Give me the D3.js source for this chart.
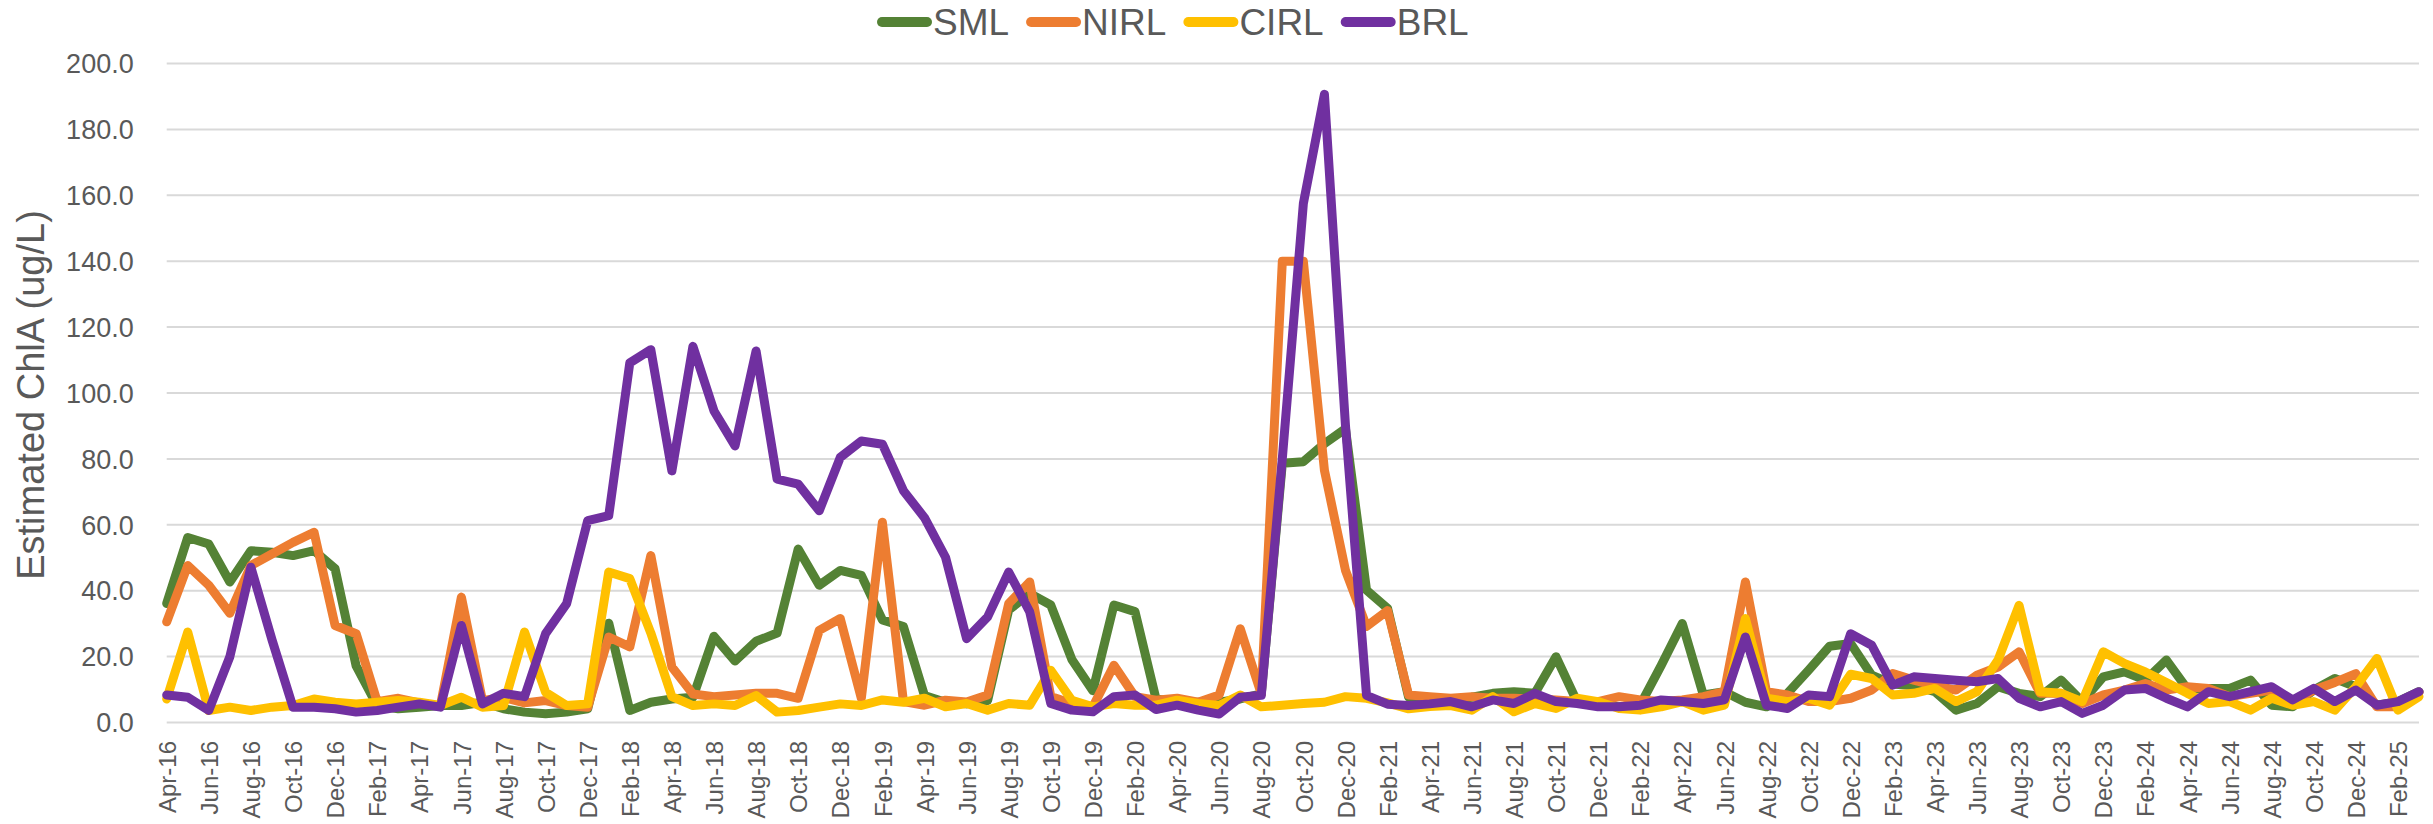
<!DOCTYPE html>
<html>
<head>
<meta charset="utf-8">
<script src="https://d3js.org/d3.v7.min.js"></script>
<style>
    body { margin: 0; background: #fff; }
    svg text { font-family: "Liberation Sans", Arial, sans-serif; fill: #595959; }
    .grid line { stroke: #d9d9d9; stroke-width: 2; }
    .grid path { display: none; }
    .series { fill: none; stroke-width: 9; stroke-linejoin: round; stroke-linecap: round; }
</style>
</head>
<body>
<svg id="chart" width="2433" height="824"></svg>
<script>

// months, Apr-16 .. Mar-25
var months = [
    "Apr-16","May-16","Jun-16","Jul-16","Aug-16","Sep-16","Oct-16","Nov-16","Dec-16",
    "Jan-17","Feb-17","Mar-17","Apr-17","May-17","Jun-17","Jul-17","Aug-17","Sep-17","Oct-17","Nov-17","Dec-17",
    "Jan-18","Feb-18","Mar-18","Apr-18","May-18","Jun-18","Jul-18","Aug-18","Sep-18","Oct-18","Nov-18","Dec-18",
    "Jan-19","Feb-19","Mar-19","Apr-19","May-19","Jun-19","Jul-19","Aug-19","Sep-19","Oct-19","Nov-19","Dec-19",
    "Jan-20","Feb-20","Mar-20","Apr-20","May-20","Jun-20","Jul-20","Aug-20","Sep-20","Oct-20","Nov-20","Dec-20",
    "Jan-21","Feb-21","Mar-21","Apr-21","May-21","Jun-21","Jul-21","Aug-21","Sep-21","Oct-21","Nov-21","Dec-21",
    "Jan-22","Feb-22","Mar-22","Apr-22","May-22","Jun-22","Jul-22","Aug-22","Sep-22","Oct-22","Nov-22","Dec-22",
    "Jan-23","Feb-23","Mar-23","Apr-23","May-23","Jun-23","Jul-23","Aug-23","Sep-23","Oct-23","Nov-23","Dec-23",
    "Jan-24","Feb-24","Mar-24","Apr-24","May-24","Jun-24","Jul-24","Aug-24","Sep-24","Oct-24","Nov-24","Dec-24",
    "Jan-25","Feb-25","Mar-25"
];

var sml = [
    36,56,54,42.5,52,51.5,50.5,52,46.5,
    17,5,4,4.5,5,5,6,4,3,2.5,3,4,
    30,3.5,6,7,7.5,26,18.5,24.5,27,52.5,41.5,46,
    44.5,31,29,8,6,5.5,6.5,34,39,35.5,19,9.5,
    35.5,33.5,7,6,6,6,7,8.5,78.5,79,84.5,89,
    40,34.5,7.5,6,6.5,7.5,8.7,9.2,8.7,19.8,6.2,5.1,
    4.6,5.1,17.2,29.9,8.2,9.2,6,4.6,8.7,15.7,23,23.8,
    14.2,11.5,11,9.2,3.6,5.6,10.7,8.7,7.7,12.7,6.2,13.7,
    15.2,12.7,18.8,10,10.2,10.2,12.7,5.1,4.6,9.7,13.2,10.7,
    5.1,6.2,9.2
];

var nirl = [
    30.4,47.5,41.5,33,47.5,51,54.5,57.6,29.3,
    26.8,6.2,7.2,5.8,4.8,37.9,6.5,7.5,5.8,6.5,5,4.5,
    25.8,22.8,50.5,16.7,8.5,7.7,8.2,8.7,8.7,7.2,27.8,31.4,
    7.2,60.6,6.2,5.1,6.6,6.1,8.2,35.9,42.5,7.7,5.6,4.6,
    17.2,7.7,6.6,7.2,6,8.2,28.3,8.5,139.8,139.8,76.4,46,
    29,33.8,8.2,7.7,7.2,7.7,7.2,7.2,7,6.7,6.2,6.2,
    7.7,6.7,6.2,6.7,7.7,9.2,42.5,9.2,8.2,6.2,6.2,7.2,
    9.7,14.7,12.7,11,9.7,14.2,16.7,21.3,8.7,8.7,5.6,8.2,
    9.7,11.7,9.7,10.7,10.2,7.7,8.7,9.7,5.6,9.7,12,14.7,
    4.6,4.6,9
];

var cirl = [
    7,27.3,3.5,4.5,3.5,4.5,5,7,6,
    5.5,6,6.5,6,5,7.5,4.5,5,27.3,9,5,5.5,
    45.5,43.5,27,7.7,5,5.5,5,8,3,3.5,4.5,5.5,
    5,6.7,6,7.2,4.6,5.6,3.6,5.6,5.1,15.7,6.6,4.6,
    5.6,5.1,5.1,6.6,5.6,5,8.2,4.6,5.1,5.6,6,7.7,
    7.2,5.8,4,4.7,5,3.6,7.7,3.1,5.6,4.1,7.2,6.2,
    4.1,3.6,4.6,6.2,3.6,5.1,31.4,7.2,6.2,7.2,5.1,14.5,
    13.2,8.2,8.7,10.2,6.2,9.2,18.8,35.4,9.2,8.7,6.2,21.3,
    17.8,15.2,12,8.7,5.6,6.2,3.6,7.2,5.1,6.2,3.6,10.7,
    19.3,3.6,7.7
];

var brl = [
    8.2,7.5,3.5,19.8,47,25,4.5,4.5,4,
    3,3.5,4.5,5.5,4.5,29.3,5.5,8.7,7.7,26.8,35.9,61.1,
    62.6,109,113,76.2,114,94.4,83.8,112.6,73.7,72.2,64.1,80.3,
    85.3,84.3,70.2,62,50,25.3,31.9,45.5,33.4,5.6,3.6,3.1,
    7.7,8.2,3.8,5.1,3.6,2.4,7.5,8.1,80,157.4,190.5,90,
    8.1,5.4,5,5.5,6.2,4.6,6.7,5.6,8.7,6.2,5.6,4.6,
    4.6,5.1,6.7,6.2,5.6,6.7,25.8,5.1,4.1,8.2,7.7,26.8,
    23.3,11.2,13.7,13.2,12.7,12.2,13.2,7.2,4.6,6.2,2.6,5.1,
    9.7,10.2,7.2,4.6,9.2,7.7,9.2,10.7,6.7,10.2,6.2,9.7,
    5.1,6.2,9.2
];

var seriesNames = ["SML", "NIRL", "CIRL", "BRL"];
var seriesColors = ["#548235", "#ED7D31", "#FFC000", "#7030A0"];
var yTicks = [0, 20, 40, 60, 80, 100, 120, 140, 160, 180, 200];

var svg = d3.select("#chart"),
    margin = {top: 63, right: 14, bottom: 102, left: 166.7},
    width = +svg.attr("width") - margin.left - margin.right,
    height = +svg.attr("height") - margin.top - margin.bottom;

var g = svg.append("g")
    .attr("transform", "translate(" + margin.left + "," + margin.top + ")");

var xScale = d3.scalePoint().domain(months).range([0, width]);
var yScale = d3.scaleLinear().domain([0, 200]).range([height, 0]);

// gridlines
g.append("g")
    .attr("class", "grid")
    .call(d3.axisLeft(yScale).tickValues(yTicks).tickSize(-width).tickFormat(""));

// y tick labels
var yAxis = g.append("g")
    .call(d3.axisLeft(yScale).tickValues(yTicks).tickSize(0).tickPadding(33)
        .tickFormat(d3.format(".1f")));
yAxis.select(".domain").remove();
yAxis.selectAll("text")
    .attr("dy", "0.36em")
    .style("font-size", "27px");

// x tick labels, every second month
var xAxis = g.append("g")
    .attr("transform", "translate(0," + height + ")")
    .call(d3.axisBottom(xScale)
        .tickValues(months.filter(function (d, i) { return i % 2 === 0; }))
        .tickSize(0));
xAxis.select(".domain").remove();
xAxis.selectAll("text")
    .attr("x", 0)
    .attr("y", 0)
    .attr("dy", "0.36em")
    .attr("text-anchor", "end")
    .style("font-size", "24px")
    .attr("transform", "translate(0,19) rotate(-90)");

// y axis title
svg.append("text")
    .attr("text-anchor", "middle")
    .attr("dy", "0.36em")
    .style("font-size", "38px")
    .attr("transform", "translate(30,395) rotate(-90)")
    .text("Estimated ChlA (ug/L)");

// lines
var allSeries = [sml, nirl, cirl, brl];
var line = d3.line()
    .x(function (d, i) { return xScale(months[i]); })
    .y(function (d) { return yScale(d); });

g.selectAll(".series")
    .data(allSeries)
    .enter().append("path")
    .attr("class", "series")
    .attr("stroke", function (d, i) { return seriesColors[i]; })
    .attr("d", line);

// legend, laid out from the measured label widths
var legend = svg.append("g").attr("class", "legend");
var lx = 877;
seriesNames.forEach(function (name, i) {
    legend.append("line")
        .attr("x1", lx + 5)
        .attr("x2", lx + 50)
        .attr("y1", 22)
        .attr("y2", 22)
        .attr("stroke", seriesColors[i])
        .attr("stroke-width", 10)
        .attr("stroke-linecap", "round");
    var t = legend.append("text")
        .attr("x", lx + 56)
        .attr("y", 22)
        .attr("dy", "0.36em")
        .style("font-size", "37px")
        .text(name);
    lx += 56 + t.node().getComputedTextLength() + 17;
});
</script>
</body>
</html>
